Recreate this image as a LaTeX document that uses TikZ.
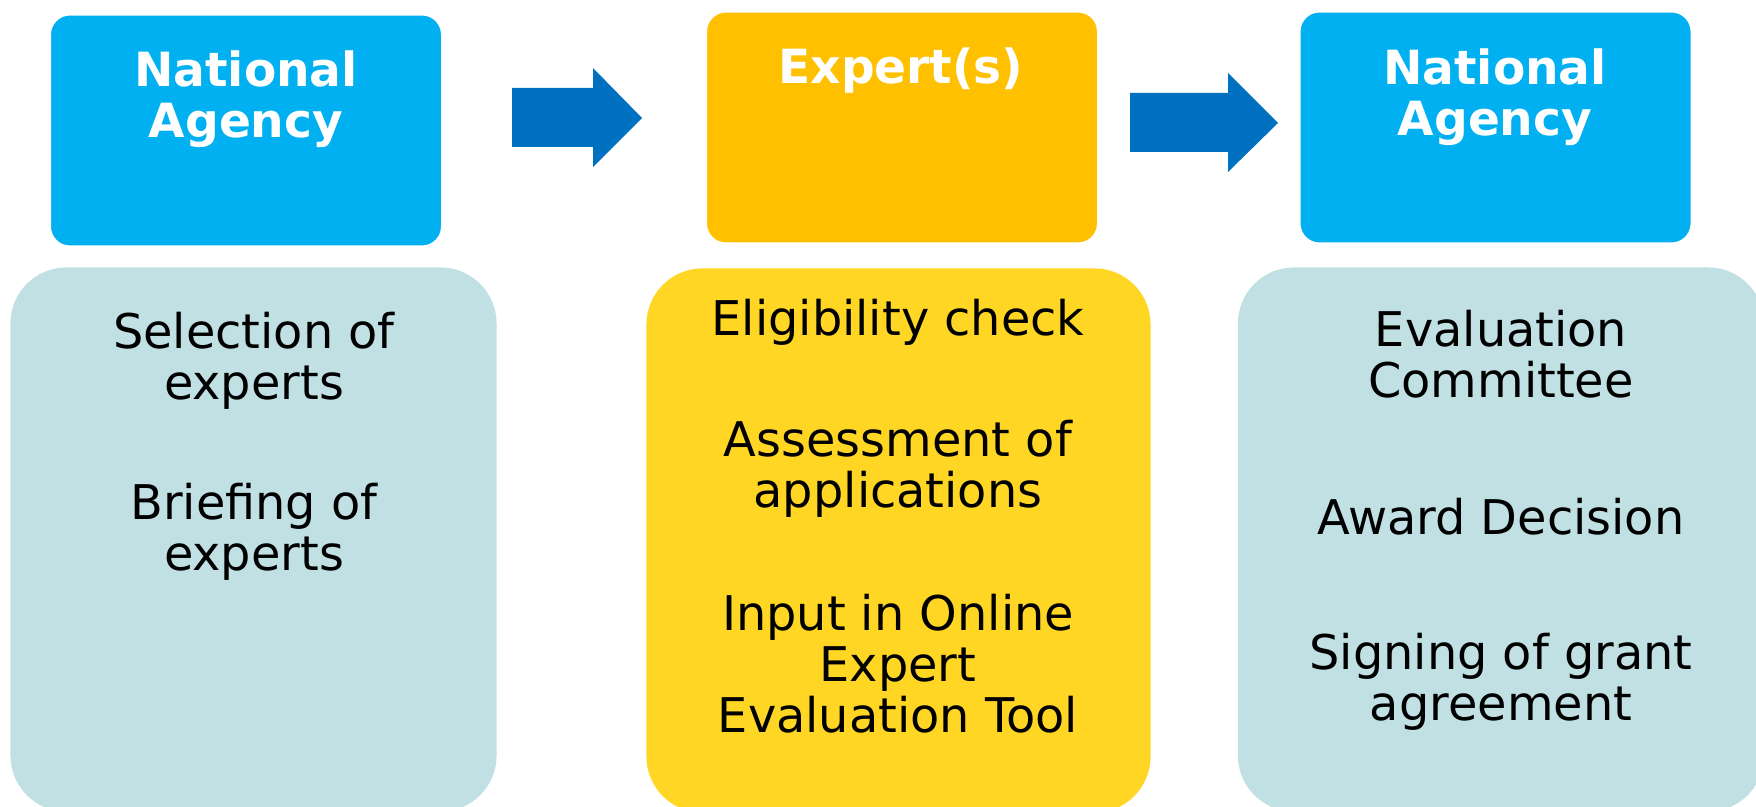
\documentclass[tikz,border=0pt]{standalone}
\usepackage{fontspec}
\setmainfont{DejaVu Sans}
\usetikzlibrary{positioning}
\definecolor{nablue}{RGB}{0,176,240}
\definecolor{exorange}{RGB}{255,192,0}
\definecolor{arrowblue}{RGB}{0,112,192}
\definecolor{nalight}{RGB}{193,224,227}
\definecolor{exyellow}{RGB}{255,214,36}
\tikzset{head/.style={draw=white,line width=1.5pt,rounded corners=0.5cm,minimum width=9.8cm,minimum height=5.8cm},
         task/.style={rounded corners=1.4cm,minimum height=13.6cm},
         title/.style={text=white,align=center,inner sep=0pt,font=\fontsize{33.5}{36.5}\selectfont\bfseries},
         item/.style={align=center,inner sep=0pt,font=\fontsize{34}{36.3}\selectfont},
         flow/.style={fill=arrowblue}
}

\begin{document}
\begin{tikzpicture}[x=0.025cm,y=-0.025cm]
  \useasboundingbox (0,0) rectangle (1756,807);
  \clip (0,0) rectangle (1756,807);
  \fill[white] (0,0) rectangle (1756,807);

  % top row
  \node[head, fill = nablue] (na1) at (246,130.5) {};
  \node[head, fill = exorange] (ex) at (902,127.5) {};
  \node[head, fill = nablue] (na2) at (1495.5,127.5) {};
  \node[title] (na1t) at (246,99) {National\\Agency};
  \node[title] (ext) at (901,71) {Expert(s)};
  \node[title] (na2t) at (1495,97) {National\\Agency};

  % lower boxes
  \node[task, fill = nalight, minimum width=12.15cm] (sel) at (253.5,539.5) {};
  \node[task, fill = exyellow, minimum width=12.6cm] (ass) at (898.5,540.5) {};
  \node[task, fill = nalight, minimum width=13.15cm] (awd) at (1501,539.5) {};

  \node[item] (s1) at (254,361) {Selection of\\experts};
  \node[item] (s2) at (254,532) {Briefing of\\experts};
  \node[item] (e1) at (898,322) {Eligibility check};
  \node[item] (e2) at (898,469) {Assessment of\\applications};
  \node[item] (e3) at (898,664) {Input in Online\\Expert\\Evaluation Tool};
  \node[item] (w1) at (1501,354.5) {Evaluation\\Committee};
  \node[item] (w2) at (1501,516.5) {Award Decision};
  \node[item] (w3) at (1501,682) {Signing of grant\\agreement};

  % block arrows
  \coordinate (p1) at (512,118);
  \coordinate (p2) at (1130,123);
  \fill[flow] (p1) ++(0,-30) -- ++(81,0) -- ++(0,-20) -- ++(49,50) -- ++(-49,49) -- ++(0,-20) -- ++(-81,0) -- cycle;
  \fill[flow] (p2) ++(0,-30) -- ++(98,0) -- ++(0,-20) -- ++(50,50) -- ++(-50,49) -- ++(0,-20) -- ++(-98,0) -- cycle;
\end{tikzpicture}
\end{document}
